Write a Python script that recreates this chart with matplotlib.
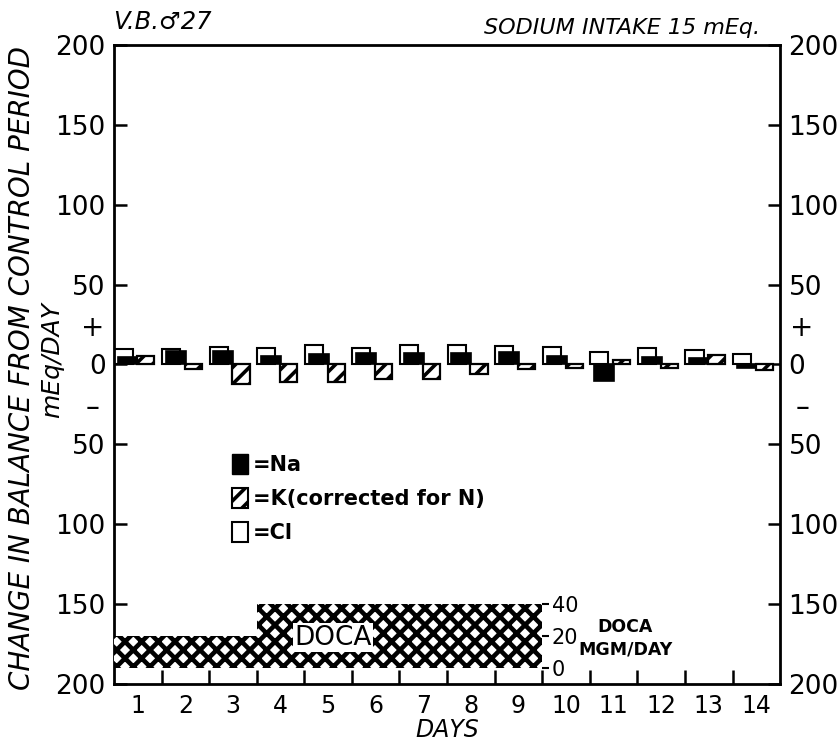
import matplotlib
matplotlib.use('Agg')
import matplotlib.pyplot as plt
import numpy as np
from matplotlib.patches import Patch

# ---- data ----
days = np.arange(1, 15)
day_labels = [str(d) for d in days]
cl_vals = [10, 9.5, 11, 10.5, 12, 10.5, 12, 12.5, 11.5, 11, 8, 10.5, 9, 6.5]
na_vals = [4.5, 8.5, 8.5, 5.5, 6.5, 7.5, 7, 7.5, 8, 5, -10.5, 4.5, 4, -2]
k_vals = [5, -3, -12, -11, -11, -9, -9, -6, -3, -2.5, 2.5, -2.5, 6, -3.5]
doca_days = np.arange(1, 10)
doca_dose = [20, 20, 20, 40, 40, 40, 40, 40, 40]
y_ticks = [-200, -150, -100, -50, 0, 50, 100, 150, 200]
y_tick_labels = ['200', '150', '100', '50', '0', '50', '100', '150', '200']
doca_ticks = [0, 20, 40]
legend_labels = ['=Na', '=K(corrected for N)', '=Cl']

plt.rcParams['font.family'] = ['DejaVu Sans']
plt.rcParams['hatch.linewidth'] = 2.6

fig = plt.figure(figsize=(8.38, 7.44), dpi=100)
ax = fig.add_axes([0.136, 0.0806, 0.795, 0.859])
ax.set_xlim(0.5, 14.5)
ax.set_ylim(-200, 200)

ax.bar(days - 0.30, cl_vals, 0.38, facecolor='white', edgecolor='black', lw=1.5, zorder=2)
ax.bar(days - 0.20, na_vals, 0.42, facecolor='black', edgecolor='black', lw=1.2, zorder=3)
ax.bar(days + 0.17, k_vals, 0.36, facecolor='white', edgecolor='black', hatch='//', lw=1.6, zorder=4)

for s in ax.spines.values():
    s.set_linewidth(2.0)

ax.set_yticks(y_ticks)
ax.set_yticklabels(y_tick_labels)
ax.tick_params(axis='y', direction='in', length=9, width=1.8, left=True, right=True,
               labelleft=True, labelright=True, labelsize=19, pad=6)

ax.set_xticks(days[:-1] + 0.5)
ax.set_xticklabels([])
ax.set_xticks(days, minor=True)
ax.set_xticklabels(day_labels, minor=True)
ax.tick_params(axis='x', which='major', direction='in', length=10, width=1.8)
ax.tick_params(axis='x', which='minor', length=0, labelsize=17, pad=7)
ax.set_xlabel('DAYS', style='italic', fontsize=17, labelpad=0)

# signs
for xf in (-0.032, 1.033):
    ax.text(xf, 23, '+', transform=ax.get_yaxis_transform(), ha='center', va='center', fontsize=20)
    ax.text(xf, -27, '\u2013', transform=ax.get_yaxis_transform(), ha='center', va='center', fontsize=20)

# DOCA inset
ins = ax.inset_axes([0.5, -190, 9, 40], transform=ax.transData)
ins.set_xlim(0.5, 9.5)
ins.set_ylim(0, 40)
doca_bars = ins.bar(doca_days, doca_dose, width=1.0, facecolor='white', edgecolor='black',
                    hatch='xx', lw=0)
for b in doca_bars:
    if hasattr(b, 'set_hatch_linewidth'):
        b.set_hatch_linewidth(3.3)
ins.patch.set_alpha(0)
for s in ins.spines.values():
    s.set_visible(False)
ins.set_xticks([])
ins.yaxis.tick_right()
ins.set_yticks(doca_ticks)
ins.tick_params(axis='y', direction='out', length=5, width=1.5, labelsize=15, pad=2)
ins.text(5.1, 19, 'DOCA', ha='center', va='center', fontsize=19,
         bbox=dict(facecolor='white', edgecolor='none', pad=1))
ax.text(11.25, -171.5, 'DOCA\nMGM/DAY', ha='center', va='center', fontsize=12.5,
        fontweight='bold', linespacing=1.3)

# legend
handles = [Patch(facecolor='black', edgecolor='black'),
           Patch(facecolor='white', edgecolor='black', hatch='//', lw=1.5),
           Patch(facecolor='white', edgecolor='black', lw=1.5)]
ax.legend(handles, legend_labels, loc='upper left', bbox_to_anchor=(0.177, 0.36), frameon=False,
          prop={'size': 15, 'weight': 'bold'}, handlelength=0.75, handleheight=1.1,
          handletextpad=0.25, labelspacing=0.62, borderpad=0, borderaxespad=0)

# labels
fig.text(0.026, 0.505, 'CHANGE IN BALANCE FROM CONTROL PERIOD', rotation=90, style='italic',
         fontsize=20, ha='center', va='center')
fig.text(0.062, 0.516, 'mEq/DAY', rotation=90, style='italic', fontsize=18, ha='center', va='center')
fig.text(113 / 838, 1 - 22 / 744, 'V.B.\u264227', style='italic', fontsize=17.5, ha='left', va='center')
fig.text(760 / 838, 1 - 28 / 744, 'SODIUM INTAKE 15 mEq.', style='italic', fontsize=16,
         ha='right', va='center')

fig.savefig('out.png', dpi=100)
